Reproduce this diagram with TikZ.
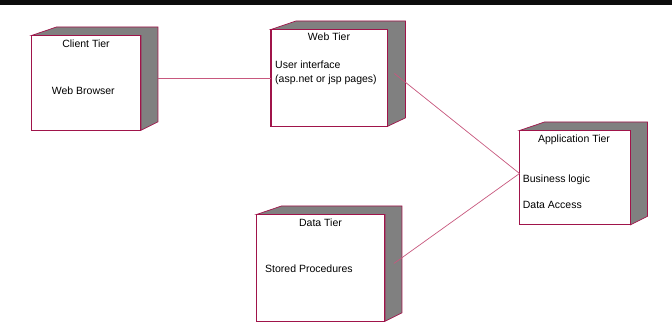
\documentclass[tikz,border=0pt]{standalone}
\usepackage{fontspec}
\setmainfont{Liberation Sans}
\usetikzlibrary{calc}
\definecolor{nodeline}{HTML}{A0144A}
\definecolor{linkline}{HTML}{C8587E}
\definecolor{depthgray}{HTML}{808080}
\definecolor{barblack}{HTML}{0D0D0D}
% 3D side and top faces of a deployment node: #1 node, #2 depth x, #3 depth y
\newcommand\tierdepth[3]{%
  \filldraw[depth] (#1.north west) -- ++(25pt,#3)
    -- ($(#1.north east)+(#2,#3)$) -- ($(#1.south east)+(#2,#3)$)
    -- (#1.south east) -- (#1.north east) -- cycle;
  \draw[frontline] (#1.north west) rectangle (#1.south east);}
\begin{document}
\begin{tikzpicture}[x=1pt,y=-1pt,
  tierbox/.style={fill=white, inner sep=0pt, anchor=north west},
  frontline/.style={draw=nodeline, line width=1.1pt},
  depth/.style={fill=depthgray, draw=nodeline, line width=0.7pt, line join=miter},
  tiertitle/.style={anchor=base, inner sep=0pt, font=\fontsize{10.5}{12.6}\selectfont},
  tiertext/.style={anchor=base west, inner sep=0pt, align=left, font=\fontsize{10.5}{13.4}\selectfont},
  link/.style={draw=linkline, line width=0.7pt}]
\useasboundingbox (0,0) rectangle (672,336);
\fill[white] (0,0) rectangle (672,336);
\fill[barblack] (0,0) rectangle (672,5);

% node front faces
\node[tierbox, minimum width=109pt, minimum height=94.5pt] (client) at (31.5,35.5) {};
\node[tierbox, minimum width=116pt, minimum height=96.5pt] (web) at (271,29.5) {};
\node[tierbox, minimum width=110.5pt, minimum height=94pt] (app) at (519.5,130.5) {};
\node[tierbox, minimum width=128pt, minimum height=106.5pt] (data) at (256.5,214.5) {};

% side and top faces
\tierdepth{client}{17pt}{8.5pt}
\tierdepth{web}{18pt}{8.5pt}
\tierdepth{app}{17pt}{8.5pt}
\tierdepth{data}{17pt}{8.5pt}

% labels
\node[tiertitle] (clientT) at (86,47.3) {Client Tier};
\node[tiertext] (clientB) at (51.7,94.5) {Web Browser};
\node[tiertitle] (webT) at (329,40.5) {Web Tier};
\node[tiertext] (webB) at (275,82.1) {User interface\\(asp.net or jsp pages)};
\node[tiertitle] (appT) at (574,142.1) {Application Tier};
\node[tiertext] (appB) at (522.7,182.1) {Business logic};
\node[tiertext] (appD) at (522.7,208.1) {Data Access};
\node[tiertitle] (dataT) at (320.5,226.1) {Data Tier};
\node[tiertext] (dataB) at (265,272.8) {Stored Procedures};

% connections
\coordinate (clientside) at ($(client.east)+(17pt,0)$);
\coordinate (appport) at ($(app.west)+(0,4.2pt)$);
\draw[link] (clientside |- web.west) -- (web.west);
\draw[link] ($(web.east)+(7pt,4.5pt)$) -- (appport);
\draw[link] ($(data.east)+(9pt,4.5pt)$) -- (appport);
\end{tikzpicture}
\end{document}
